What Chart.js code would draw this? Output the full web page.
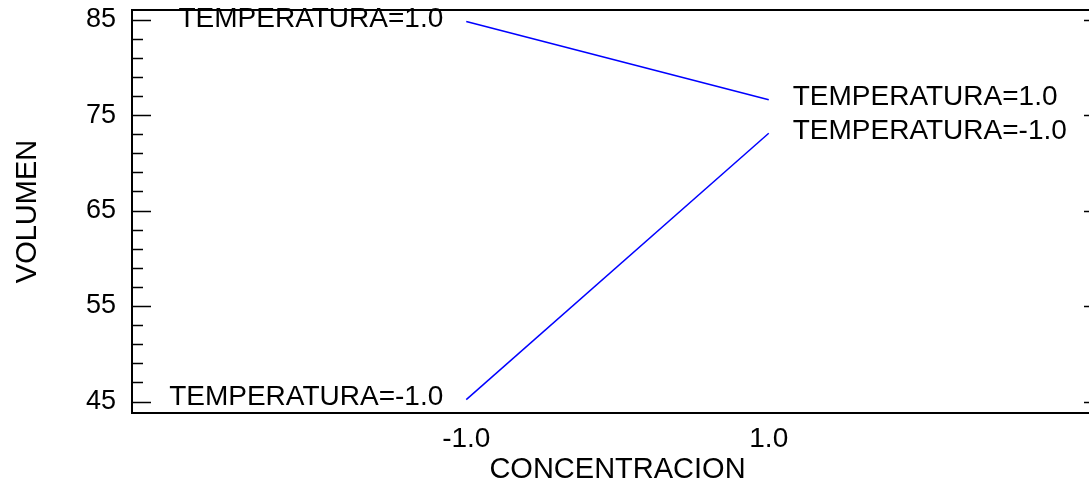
<!DOCTYPE html>
<html>
<head>
<meta charset="utf-8">
<script src="https://cdn.jsdelivr.net/npm/chart.js@4/dist/chart.umd.min.js"></script>
<style>
  html, body { margin: 0; padding: 0; background: #fff; overflow: hidden; }
  #wrap { width: 1104px; height: 482px; }
</style>
</head>
<body>
<div id="wrap"><canvas id="c" width="1104" height="482"></canvas></div>
<script>
// ---- data ----
const concentracion = [-1, 1];
const volumenTempHigh = [84.8, 76.6];   // TEMPERATURA=1.0
const volumenTempLow  = [45.2, 73.1];   // TEMPERATURA=-1.0
const seriesLabels = ['TEMPERATURA=1.0', 'TEMPERATURA=-1.0'];
const yTickValues = [45, 55, 65, 75, 85];
const xTickValues = [-1, 1];
const xTickLabels = ['-1.0', '1.0'];
const xTitle = 'CONCENTRACION';
const yTitle = 'VOLUMEN';

const FONT = '"Liberation Sans", Arial, sans-serif';

function toPoints(xs, ys) { return xs.map((x, i) => ({ x: x, y: ys[i] })); }

const framePlugin = {
  id: 'frame',
  afterDatasetsDraw(chart) {
    const { ctx, chartArea: a, scales } = chart;
    const ys = scales.y;
    ctx.save();
    ctx.strokeStyle = '#000';
    ctx.lineWidth = 2;
    ctx.strokeRect(a.left, a.top, a.right - a.left, a.bottom - a.top);
    ctx.lineWidth = 1.5;
    const step = yTickValues[1] - yTickValues[0];
    const minorStep = step / 5;
    for (let v = yTickValues[0]; v <= yTickValues[yTickValues.length - 1] + 1e-9; v += minorStep) {
      const isMajor = yTickValues.some(t => Math.abs(t - v) < 1e-6);
      const len = isMajor ? 19 : 11;
      const py = Math.round(ys.getPixelForValue(v)) + 0.5;
      ctx.beginPath();
      ctx.moveTo(a.left, py); ctx.lineTo(a.left + len, py);
      ctx.moveTo(a.right, py); ctx.lineTo(a.right - len, py);
      ctx.stroke();
    }
    ctx.restore();
  }
};

const endLabelsPlugin = {
  id: 'endLabels',
  afterDatasetsDraw(chart) {
    const { ctx, scales } = chart;
    ctx.save();
    ctx.font = '28px ' + FONT;
    ctx.fillStyle = '#000';
    ctx.textBaseline = 'middle';
    chart.data.datasets.forEach(ds => {
      const first = ds.data[0], last = ds.data[ds.data.length - 1];
      ctx.textAlign = 'right';
      ctx.fillText(ds.label, scales.x.getPixelForValue(first.x) - 23, scales.y.getPixelForValue(first.y) - 2);
      ctx.textAlign = 'left';
      ctx.fillText(ds.label, scales.x.getPixelForValue(last.x) + 24, scales.y.getPixelForValue(last.y) - 2);
    });
    ctx.restore();
  }
};

new Chart(document.getElementById('c'), {
  type: 'scatter',
  data: {
    datasets: [
      { label: seriesLabels[0], data: toPoints(concentracion, volumenTempHigh),
        showLine: true, borderColor: '#0000ff', borderWidth: 1.5, pointRadius: 0, fill: false },
      { label: seriesLabels[1], data: toPoints(concentracion, volumenTempLow),
        showLine: true, borderColor: '#0000ff', borderWidth: 1.5, pointRadius: 0, fill: false }
    ]
  },
  options: {
    responsive: false,
    animation: false,
    devicePixelRatio: 1,
    layout: { padding: { top: 10, right: 1, bottom: 0, left: 0 } },
    plugins: { legend: { display: false }, tooltip: { enabled: false } },
    scales: {
      x: {
        type: 'linear', min: -3.21, max: 3.21,
        grid: { display: false, drawTicks: false },
        border: { display: false },
        afterBuildTicks: s => { s.ticks = xTickValues.map(v => ({ value: v })); },
        afterFit: s => { s.height = 69; s.paddingLeft = 0; s.paddingRight = 0; },
        ticks: {
          padding: 9, color: '#000', font: { family: FONT, size: 28 },
          maxRotation: 0, autoSkip: false,
          callback: (v, i) => xTickLabels[i]
        },
        title: { display: true, text: xTitle, color: '#000',
                 font: { family: FONT, size: 29, lineHeight: 1 }, padding: { top: 0, bottom: -2 } }
      },
      y: {
        type: 'linear', min: 43.8, max: 86.0,
        grid: { display: false, drawTicks: false },
        border: { display: false },
        afterBuildTicks: s => { s.ticks = yTickValues.map(v => ({ value: v })); },
        afterFit: s => { s.width = 132; s.paddingTop = 0; s.paddingBottom = 0; },
        ticks: { padding: 16, color: '#000', font: { family: FONT, size: 27 }, autoSkip: false,
                 callback: v => String(v) },
        title: { display: true, text: yTitle, color: '#000',
                 font: { family: FONT, size: 29, lineHeight: 1 }, padding: { top: 13, bottom: 0 } }
      }
    }
  },
  plugins: [framePlugin, endLabelsPlugin]
});
</script>
</body>
</html>
